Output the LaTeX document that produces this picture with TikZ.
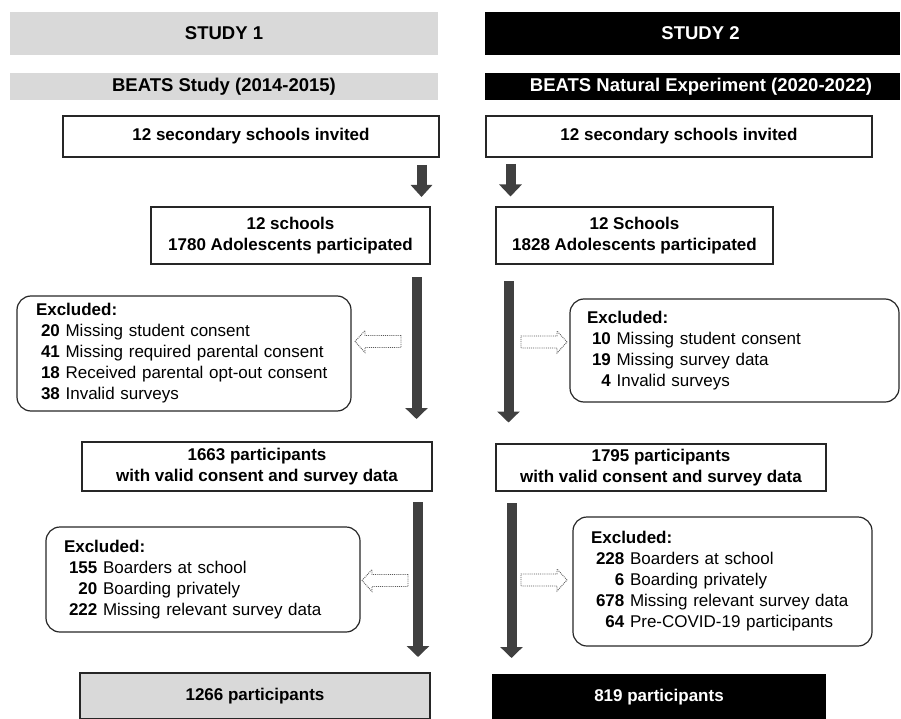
\documentclass[tikz,border=0pt]{standalone}
\usepackage{fontspec}
\setmainfont{Liberation Sans}
\usetikzlibrary{arrows.meta}
\definecolor{barg}{HTML}{D9D9D9}
\definecolor{arrg}{HTML}{404040}
\newcommand\hdrfont{\fontsize{18.5}{22}\selectfont\bfseries}
\newcommand\bodyfont{\fontsize{17}{21}\selectfont}
\newcommand\exlist[1]{\begin{tabular}{@{\hspace{5pt}}r@{\ }l@{}}\multicolumn{2}{@{}l@{}}{\textbf{Excluded:}}\\#1\end{tabular}}

\begin{document}
\begin{tikzpicture}[x=1pt,y=-1pt,
  graybar/.style={fill=barg, inner sep=0pt, font=\hdrfont, text=black, minimum width=428pt},
  blackbar/.style={fill=black, inner sep=0pt, font=\hdrfont, text=white, minimum width=415pt},
  flowbox/.style={draw=black!85, line width=1.2pt, inner sep=0pt, font=\bodyfont\bfseries, align=center},
  exbox/.style={draw=black!85, line width=1.2pt, rounded corners=14pt, font=\bodyfont, inner ysep=0pt, align=left},
  bigarrow/.style={draw=arrg, line width=10pt, -{Triangle[width=22pt,length=11pt]}},
  hollow/.style={draw=black!65, line width=0.9pt, densely dotted, fill=white},
  hollowarrow/.pic={\draw[hollow] (0,0) -- (10,-11) -- (10,-6) -- (46,-6) -- (46,6) -- (10,6) -- (10,11) -- cycle;}
]
\useasboundingbox (0,0) rectangle (901,719);

% headers
\node[graybar, minimum height=43pt] (t1) at (224,33.5) {STUDY 1};
\node[blackbar, minimum height=43pt] (t2) at (692.5,33.5) {\hspace*{16pt}STUDY 2};
\node[graybar, minimum height=27pt] (b1) at (224,86.5) {BEATS Study (2014-2015)};
\node[blackbar, minimum height=27pt] (b2) at (692.5,86.5) {\hspace*{17pt}BEATS Natural Experiment (2020-2022)};

% first boxes
\node[flowbox, minimum width=376pt, minimum height=41pt] (s1a) at (251,136.5) {12 secondary schools invited};
\node[flowbox, minimum width=386pt, minimum height=41pt] (s2a) at (679,136.5) {12 secondary schools invited};

\node[flowbox, minimum width=279pt, minimum height=57pt] (s1b) at (290.5,235.5) {12 schools\\1780 Adolescents participated};
\node[flowbox, minimum width=277pt, minimum height=57pt] (s2b) at (634.5,235.5) {12 Schools\\1828 Adolescents participated};

% excluded 1
\node[exbox, minimum width=334pt, minimum height=115pt, inner xsep=19pt, text width=296pt] (e1) at (184,353.5)
  {\exlist{\textbf{20} & Missing student consent\\ \textbf{41} & Missing required parental consent\\ \textbf{18} & Received parental opt-out consent\\ \textbf{38} & Invalid surveys}};
\node[exbox, minimum width=329pt, minimum height=103pt, inner xsep=17pt, text width=295pt] (e2) at (734.5,350.5)
  {\exlist{\textbf{10} & Missing student consent\\ \textbf{19} & Missing survey data\\ \textbf{4} & Invalid surveys}};

\node[flowbox, minimum width=350pt, minimum height=49pt] (c1) at (257,466.5) {1663 participants\\with valid consent and survey data};
\node[flowbox, minimum width=330pt, minimum height=47pt] (c2) at (661,467.5) {1795 participants\\with valid consent and survey data};

% excluded 2
\node[exbox, minimum width=314pt, minimum height=105pt, inner xsep=18pt, text width=278pt] (e3) at (203,579.5)
  {\exlist{\textbf{155} & Boarders at school\\ \textbf{20} & Boarding privately\\ \textbf{222} & Missing relevant survey data}};
\node[exbox, minimum width=299pt, minimum height=129pt, inner xsep=18pt, text width=263pt] (e4) at (722.5,581.5)
  {\exlist{\textbf{228} & Boarders at school\\ \textbf{6} & Boarding privately\\ \textbf{678} & Missing relevant survey data\\ \textbf{64} & Pre-COVID-19 participants}};

% final boxes
\node[flowbox, fill=barg, minimum width=350pt, minimum height=45.5pt] (f1) at (255,695.75) {\raisebox{-2pt}{1266 participants}};
\node[flowbox, fill=black, draw=black, text=white, minimum width=332pt, minimum height=44pt] (f2) at (659,697) {819 participants};

% arrow coordinates
\coordinate (sa1s) at (421.5,165);   \coordinate (sa1e) at (421.5,197);
\coordinate (sa2s) at (510.5,164);   \coordinate (sa2e) at (510.5,196.5);
\coordinate (ba1s) at (416.5,277);   \coordinate (ba1e) at (416.5,419);
\coordinate (ba2s) at (508.5,281);   \coordinate (ba2e) at (508.5,422.5);
\coordinate (ba3s) at (418,502);     \coordinate (ba3e) at (418,657);
\coordinate (ba4s) at (511.5,503);   \coordinate (ba4e) at (511.5,658);

\draw[bigarrow, -{Triangle[width=21pt,length=12pt]}] (sa1s) -- (sa1e);
\draw[bigarrow, -{Triangle[width=22pt,length=12pt]}] (sa2s) -- (sa2e);
\draw[bigarrow] (ba1s) -- (ba1e);
\draw[bigarrow] (ba2s) -- (ba2e);
\draw[bigarrow] (ba3s) -- (ba3e);
\draw[bigarrow] (ba4s) -- (ba4e);

% hollow side arrows
\coordinate (h1) at (355,341.5);
\coordinate (h2) at (567,342);
\coordinate (h3) at (362,580.5);
\coordinate (h4) at (567,580);
\pic at (h1) {hollowarrow};
\pic[xscale=-1] at (h2) {hollowarrow};
\pic at (h3) {hollowarrow};
\pic[xscale=-1] at (h4) {hollowarrow};
\end{tikzpicture}
\end{document}
